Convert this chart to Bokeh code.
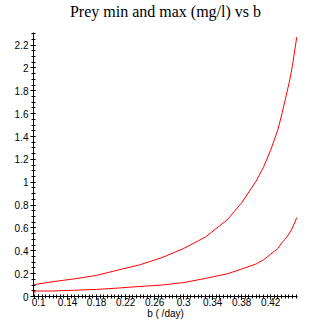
from bokeh.plotting import figure
from bokeh.models import FixedTicker, Range1d, Title
from bokeh.embed import file_html
from bokeh.resources import INLINE

b = [0.093, 0.095, 0.12, 0.15, 0.18, 0.21, 0.24, 0.27, 0.30, 0.33, 0.36, 0.38,
     0.40, 0.41, 0.42, 0.43, 0.436, 0.44, 0.446, 0.45, 0.456]
prey_max = [0.10, 0.105, 0.13, 0.155, 0.185, 0.232, 0.278, 0.34, 0.42, 0.52,
            0.67, 0.82, 1.01, 1.13, 1.28, 1.46, 1.61, 1.72, 1.885, 2.02, 2.27]
prey_min = [0.02, 0.048, 0.048, 0.055, 0.062, 0.074, 0.088, 0.10, 0.122, 0.158,
            0.198, 0.24, 0.285, 0.32, 0.37, 0.42, 0.476, 0.50, 0.555, 0.60, 0.69]

x_ticks = [0.1, 0.14, 0.18, 0.22, 0.26, 0.3, 0.34, 0.38, 0.42]
x_labels = ["0.1", "0.14", "0.18", "0.22", "0.26", "0.3", "0.34", "0.38", "0.42"]
y_ticks = [0, 0.2, 0.4, 0.6, 0.8, 1.0, 1.2, 1.4, 1.6, 1.8, 2.0, 2.2]
y_labels = ["0", "0.2", "0.4", "0.6", "0.8", "1", "1.2", "1.4", "1.6", "1.8", "2", "2.2"]
title_text = "Prey min and max (mg/l) vs b"

p = figure(width=329, height=329, output_backend="svg", toolbar_location=None,
           x_range=Range1d(0.093, 0.457), y_range=Range1d(0, 2.31),
           min_border_left=33, min_border_right=32, min_border_top=0,
           min_border_bottom=33)

p.add_layout(Title(text=" ", text_font_size="10px", standoff=0), "above")
p.add_layout(Title(text=title_text, text_font="Liberation Serif",
                   text_font_size="16px", text_font_style="normal",
                   align="center", text_color="black", standoff=0), "above")

p.outline_line_color = None
p.grid.visible = False
p.background_fill_color = "white"
p.border_fill_color = "white"

p.line(b, prey_max, line_color="#ff0000", line_width=1)
p.line(b, prey_min, line_color="#ff0000", line_width=1)

x_minor = [round(0.095 + 0.005 * i, 4) for i in range(73)]
y_minor = [round(0.05 * i, 3) for i in range(47)]
p.xaxis.ticker = FixedTicker(ticks=x_ticks, minor_ticks=x_minor)
p.yaxis.ticker = FixedTicker(ticks=y_ticks, minor_ticks=y_minor)
p.xaxis.major_label_overrides = {t: l for t, l in zip(x_ticks, x_labels)}
p.yaxis.major_label_overrides = {t: l for t, l in zip(y_ticks, y_labels)}

for ax in (p.xaxis, p.yaxis):
    ax.axis_line_color = "black"
    ax.major_tick_line_color = "black"
    ax.minor_tick_line_color = "black"
    ax.major_tick_in = 2
    ax.major_tick_out = 3
    ax.minor_tick_in = 2
    ax.minor_tick_out = 2
    ax.major_label_text_font = "Liberation Sans"
    ax.major_label_text_font_size = "10px"
    ax.major_label_text_color = "black"
    ax.major_label_standoff = 2
p.xaxis.major_label_standoff = -2

p.xaxis.axis_label = "b ( /day)"
p.xaxis.axis_label_text_font = "Liberation Sans"
p.xaxis.axis_label_text_font_size = "10px"
p.xaxis.axis_label_text_font_style = "normal"
p.xaxis.axis_label_text_color = "black"
p.xaxis.axis_label_standoff = -1

open("out.html", "w").write(file_html(p, INLINE))
